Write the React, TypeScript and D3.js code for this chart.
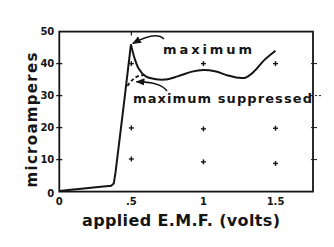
import React from "react";
import * as d3 from "d3";

const volts = [0, 0.08, 0.17, 0.27, 0.36, 0.378, 0.39, 0.42, 0.455, 0.497, 0.52, 0.55, 0.6, 0.66, 0.73, 0.82, 0.92, 1.0, 1.08, 1.17, 1.24, 1.29, 1.35, 1.42, 1.5];
const current = [0.2, 0.6, 1.0, 1.4, 1.8, 2.5, 6, 17, 30, 46, 42, 38.5, 36, 35.2, 35, 36, 37.5, 38, 37.6, 36.3, 35.6, 35.6, 37.5, 41, 44];
const suppVolts = [0.472, 0.5, 0.53, 0.565, 0.6];
const suppCurrent = [33, 34.6, 35.7, 36.3, 36.4];
const crossVolts = [0.5, 1, 1.5, 0.5, 1, 1.5, 0.5, 1, 1.5];
const crossCurrent = [10.2, 9.3, 8.8, 19.9, 19.6, 19.8, 40, 40, 40];
const yTicks = [0, 10, 20, 30, 40, 50];
const xTicks = [0, 0.5, 1, 1.5];
const xTickLabels = ["0", ".5", "1", "1.5"];

const W = 334, H = 247;
const x = d3.scaleLinear().domain([0, 1.76]).range([59.3, 313]);
const y = d3.scaleLinear().domain([0, 50]).range([191.6, 31.6]);
const ink = "#151515";

export default function App() {
  const peak = current.indexOf(d3.max(current) as number);
  const pts = volts.map((v, i) => [v, current[i]] as [number, number]);
  const rise = pts.slice(0, peak + 1);
  const fall = pts.slice(peak);
  const lin = d3.line<[number, number]>().x(d => x(d[0])).y(d => y(d[1])).curve(d3.curveLinear);
  const smooth = d3.line<[number, number]>().x(d => x(d[0])).y(d => y(d[1])).curve(d3.curveCatmullRom.alpha(0.5));
  const supp = suppVolts.map((v, i) => [v, suppCurrent[i]] as [number, number]);
  const font = "'DejaVu Sans', sans-serif";

  return (
    <svg width={W} height={H} style={{ position: "absolute", left: 0, top: 0, background: "#fff" }}>
      <defs>
        <marker id="ah" viewBox="0 0 10 10" refX="9" refY="5" markerWidth="6" markerHeight="6" orient="auto-start-reverse">
          <path d="M0,1 L10,5 L0,9 z" fill={ink} />
        </marker>
      </defs>
      <rect x={0} y={0} width={W} height={H} fill="#fff" />
      <rect x={x(0)} y={y(50)} width={x(1.76) - x(0)} height={y(0) - y(50)} fill="none" stroke={ink} strokeWidth={1.8} />
      {yTicks.slice(1, 5).map(t => (
        <line key={"lt" + t} x1={x(0) - 3} x2={x(0) + 3} y1={y(t)} y2={y(t)} stroke={ink} strokeWidth={1.3} />
      ))}
      {yTicks.slice(1, 5).map(t => (
        <line key={"rt" + t} x1={x(1.76) - 2} x2={x(1.76) + (t === 30 ? 8 : 4)} y1={y(t)} y2={y(t)} stroke={ink} strokeWidth={1} strokeDasharray={t === 30 ? "2,2" : undefined} />
      ))}
      <line x1={x(0.5)} x2={x(0.5)} y1={y(50)} y2={y(50) + 4} stroke={ink} strokeWidth={1.2} />
      {crossVolts.map((v, i) => (
        <g key={"c" + i} stroke={ink} strokeWidth={1.4}>
          <line x1={x(v) - 2.5} x2={x(v) + 2.5} y1={y(crossCurrent[i])} y2={y(crossCurrent[i])} />
          <line x1={x(v)} x2={x(v)} y1={y(crossCurrent[i]) - 2.5} y2={y(crossCurrent[i]) + 2.5} />
        </g>
      ))}
      {yTicks.map(t => (
        <text key={"yl" + t} x={x(0) - 5} y={y(t) + (t === 0 ? 5 : 3.5)} textAnchor="end" fontFamily={font} fontWeight="bold" fontSize={10} fill={ink}>{t}</text>
      ))}
      {xTicks.map((t, i) => (
        <text key={"xl" + t} x={x(t)} y={205} textAnchor="middle" fontFamily={font} fontWeight="bold" fontSize={10} fill={ink}>{xTickLabels[i]}</text>
      ))}
      <path d={lin(rise) || ""} fill="none" stroke={ink} strokeWidth={2} strokeLinejoin="miter" />
      <path d={smooth(fall) || ""} fill="none" stroke={ink} strokeWidth={2} />
      <path d={smooth(supp) || ""} fill="none" stroke={ink} strokeWidth={1.8} strokeDasharray="3.5,2.5" />
      <path d={`M164,39 C158,33 148,35 ${x(0.51)},${y(46.3)}`} fill="none" stroke={ink} strokeWidth={1.5} markerEnd="url(#ah)" />
      <path d={`M167,91 C162,84 152,82 ${x(0.535)},${y(34.3)}`} fill="none" stroke={ink} strokeWidth={1.5} markerEnd="url(#ah)" />
      <text x={163} y={54} fontFamily={font} fontWeight="bold" fontSize={13} textLength={89} lengthAdjust="spacing" fill={ink}>maximum</text>
      <text x={133} y={103} fontFamily={font} fontWeight="bold" fontSize={13} textLength={179} lengthAdjust="spacing" fill={ink}>maximum suppressed</text>
      <text x={82} y={226} fontFamily={font} fontWeight="bold" fontSize={16} textLength={198} lengthAdjust="spacing" fill={ink}>applied E.M.F. (volts)</text>
      <text transform={`translate(37,120) rotate(-90)`} textAnchor="middle" fontFamily={font} fontWeight="bold" fontSize={15} textLength={135} lengthAdjust="spacing" fill={ink}>microamperes</text>
    </svg>
  );
}
